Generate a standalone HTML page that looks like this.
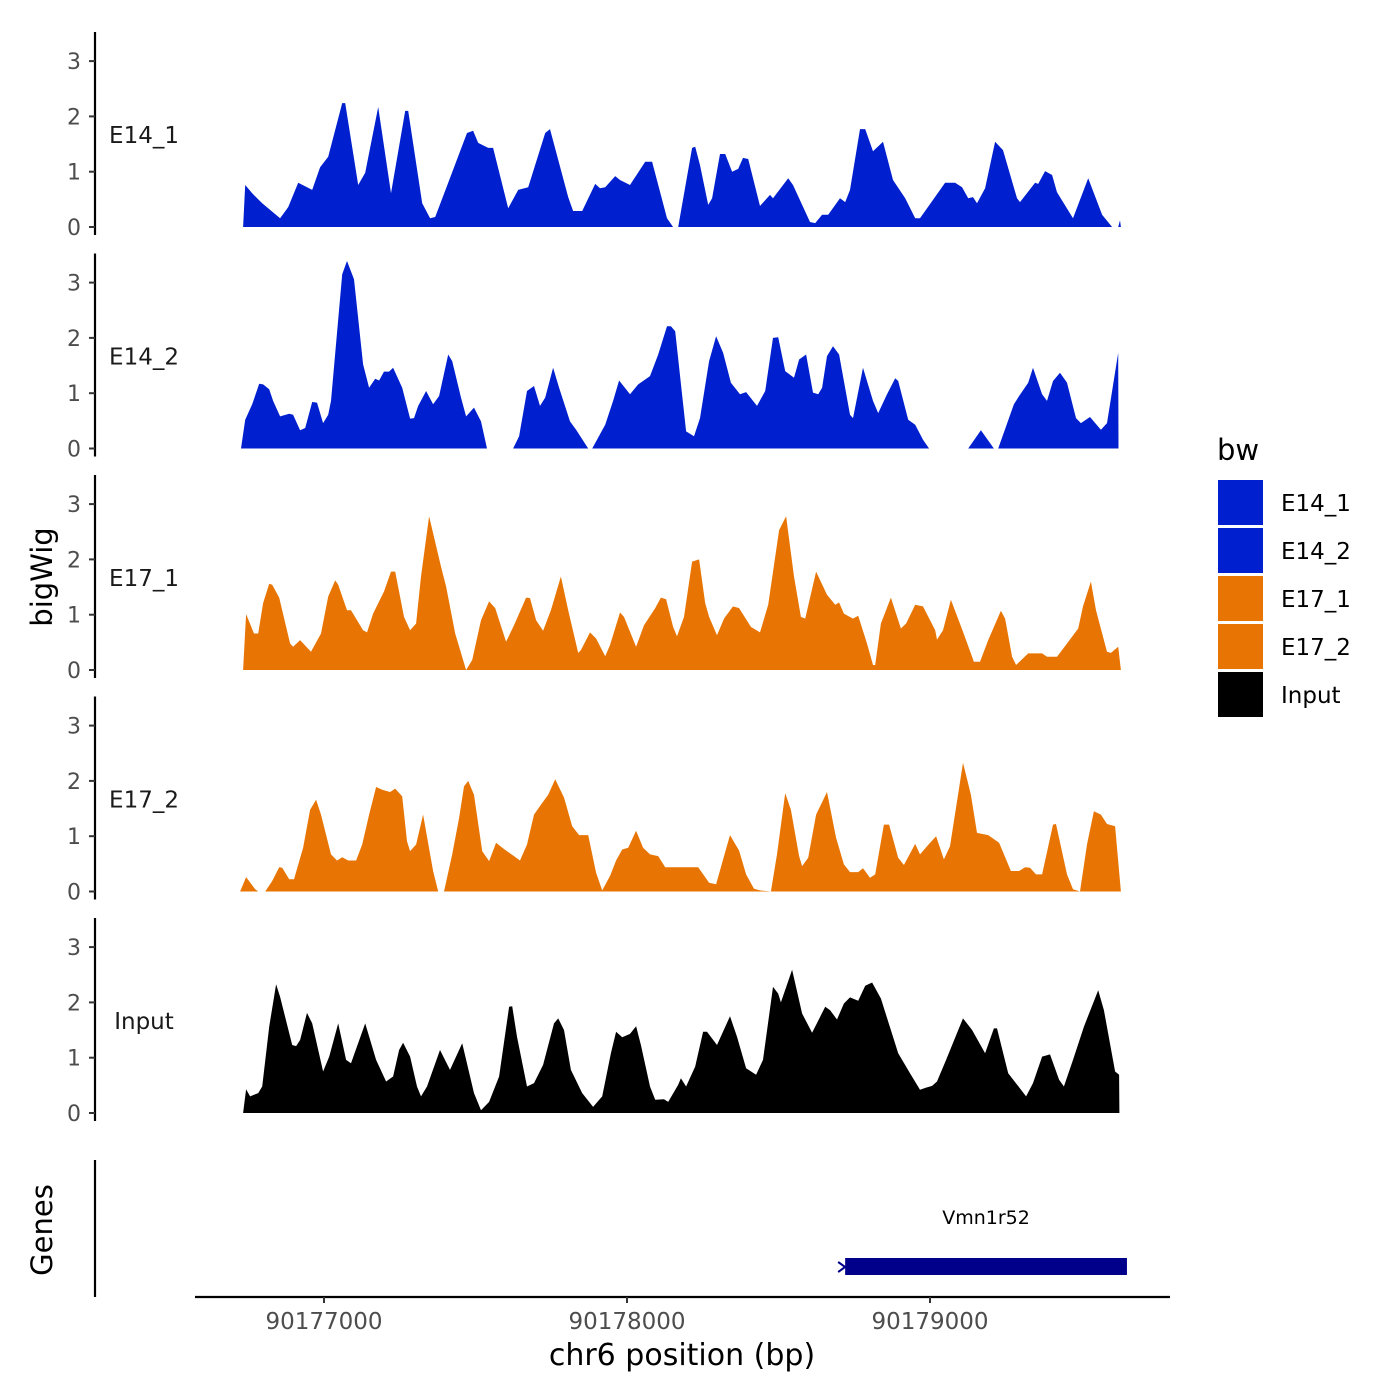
<!DOCTYPE html>
<html><head><meta charset="utf-8"><style>
html,body{margin:0;padding:0;background:#fff;}
svg{display:block;font-family:"DejaVu Sans","Liberation Sans",sans-serif;}
</style></head><body>
<svg id="chart" width="1400" height="1400" viewBox="0 0 1400 1400" xmlns="http://www.w3.org/2000/svg">
<rect x="0" y="0" width="1400" height="1400" fill="#fff"/>
<g id="tracks"></g>
<text x="52" y="577" transform="rotate(-90 52 577)" text-anchor="middle" font-size="29" fill="#000">bigWig</text>
<line x1="95" y1="1160" x2="95" y2="1297" stroke="#000" stroke-width="2.2"/>
<text x="52" y="1230" transform="rotate(-90 52 1230)" text-anchor="middle" font-size="29" fill="#000">Genes</text>
<g id="genes"></g>
<g id="xaxis"></g>
<text x="682" y="1365" text-anchor="middle" font-size="30" fill="#000">chr6 position (bp)</text>
<g id="legend"></g>
</svg>
<script>
const regionBase = 90176700;
const trackNames = ["E14_1","E14_2","E17_1","E17_2","Input"];
const trackColors = ["#0020CF","#0020CF","#E87503","#E87503","#000000"];
const yTicks = [0,1,2,3];
const xTicks = [90177000,90178000,90179000];
const xTickLabels = ["90177000","90178000","90179000"];
const legendLabels = ["E14_1","E14_2","E17_1","E17_2","Input"];
const geneName = "Vmn1r52";
const geneStart = 90178720;
const geneEnd = 90179650;

const pos1 = [33,40,63,96,155,182,215,261,287,314,360,370,413,436,479,521,568,578,624,650,667,710,772,792,809,842,858,908,941,974,1030,1046,1106,1122,1152,1195,1211,1228,1261,1277,1310,1360,1383,1432,1452,1469,1515,1525,1541,1568,1581,1607,1624,1647,1667,1683,1700,1739,1772,1782,1832,1848,1904,1921,1944,1964,2003,2020,2036,2069,2086,2112,2145,2178,2218,2251,2267,2350,2383,2406,2426,2442,2455,2482,2515,2541,2587,2597,2647,2657,2680,2703,2719,2772,2822,2868,2901,2921,2927,2930];
const val1 = [0,0.76,0.61,0.43,0.16,0.36,0.8,0.67,1.08,1.27,2.24,2.24,0.76,0.98,2.17,0.61,2.1,2.1,0.43,0.16,0.18,0.8,1.7,1.74,1.52,1.43,1.43,0.34,0.67,0.72,1.7,1.77,0.54,0.29,0.29,0.78,0.7,0.72,0.92,0.85,0.76,1.18,1.18,0.16,0,0,1.43,1.45,1.12,0.4,0.52,1.32,1.32,1.0,1.05,1.25,1.23,0.38,0.58,0.52,0.88,0.76,0.09,0.07,0.22,0.22,0.52,0.45,0.67,1.77,1.77,1.37,1.54,0.85,0.52,0.16,0.16,0.8,0.8,0.72,0.52,0.54,0.43,0.7,1.54,1.39,0.52,0.45,0.8,0.78,1.01,0.94,0.63,0.16,0.88,0.22,0,0,0.12,0];

const pos2 = [26,40,63,86,99,119,132,155,185,198,221,238,261,277,297,314,323,360,376,399,429,449,469,482,498,515,528,558,584,597,611,637,660,680,710,723,752,769,795,818,838,924,944,970,993,1013,1030,1056,1076,1112,1132,1172,1185,1228,1254,1274,1310,1337,1376,1403,1432,1445,1459,1495,1521,1541,1571,1594,1617,1643,1673,1693,1729,1756,1782,1799,1822,1851,1868,1891,1914,1931,1944,1960,1980,2000,2036,2046,2079,2112,2129,2158,2185,2195,2228,2251,2277,2297,2426,2468,2511,2525,2577,2594,2624,2640,2670,2686,2706,2729,2752,2782,2798,2828,2864,2884,2921,2922];
const val2 = [0,0.52,0.8,1.17,1.16,1.07,0.86,0.58,0.63,0.61,0.33,0.37,0.84,0.83,0.46,0.61,0.86,3.15,3.39,3.06,1.52,1.1,1.26,1.23,1.39,1.39,1.46,1.1,0.54,0.55,0.77,1.04,0.8,0.95,1.7,1.58,0.92,0.58,0.74,0.49,0,0,0.22,1.04,1.13,0.77,0.92,1.46,1.1,0.49,0.34,0,0,0.43,0.86,1.23,0.98,1.16,1.31,1.7,2.21,2.21,2.12,0.31,0.22,0.55,1.58,2.03,1.73,1.19,0.98,1.02,0.77,1.04,2.0,2.01,1.4,1.28,1.61,1.7,1.01,0.98,1.1,1.67,1.85,1.7,0.61,0.55,1.46,0.86,0.64,0.98,1.27,1.22,0.52,0.43,0.16,0,0,0.33,0,0,0.8,0.95,1.19,1.46,0.98,0.86,1.22,1.37,1.19,0.55,0.46,0.57,0.34,0.46,1.73,0];

const pos3 = [33,43,69,83,99,119,129,152,162,188,198,221,257,290,314,337,347,376,389,429,442,462,498,521,535,564,584,604,620,647,686,703,733,769,789,818,845,865,901,927,967,980,1000,1023,1049,1082,1106,1139,1148,1178,1198,1228,1244,1277,1290,1330,1356,1393,1412,1429,1452,1465,1488,1515,1538,1558,1571,1597,1620,1650,1670,1709,1739,1766,1802,1825,1851,1874,1888,1924,1960,1987,2000,2016,2046,2063,2092,2112,2119,2138,2171,2204,2221,2251,2277,2317,2323,2343,2369,2409,2445,2465,2492,2534,2548,2571,2584,2624,2670,2686,2719,2752,2789,2805,2831,2848,2884,2897,2921,2930];
const val3 = [0,1.01,0.66,0.66,1.21,1.56,1.54,1.31,1.08,0.48,0.42,0.54,0.33,0.66,1.33,1.62,1.54,1.08,1.08,0.72,0.68,1.02,1.42,1.78,1.78,0.96,0.72,0.84,1.69,2.78,1.87,1.51,0.66,0,0.18,0.9,1.24,1.12,0.51,0.81,1.31,1.3,0.9,0.71,1.08,1.69,1.08,0.31,0.36,0.68,0.57,0.25,0.45,1.04,0.96,0.42,0.81,1.12,1.31,1.28,0.78,0.61,0.96,1.96,2.0,1.21,0.96,0.63,0.93,1.15,1.12,0.78,0.68,1.18,2.53,2.78,1.69,0.96,0.93,1.78,1.36,1.18,1.22,1.02,0.93,0.98,0.48,0.09,0.09,0.84,1.31,0.75,0.84,1.18,1.15,0.72,0.55,0.72,1.27,0.69,0.15,0.15,0.54,1.07,0.93,0.24,0.09,0.3,0.3,0.24,0.24,0.48,0.75,1.15,1.6,1.08,0.33,0.31,0.42,0];

const pos4 = [23,43,73,83,106,129,152,162,185,201,231,254,274,290,323,343,360,380,406,426,449,472,492,518,535,558,574,584,604,627,660,677,696,723,746,762,776,795,822,845,868,891,927,947,970,993,1016,1040,1063,1092,1119,1142,1172,1198,1218,1244,1264,1284,1304,1330,1353,1376,1403,1426,1535,1571,1594,1617,1640,1670,1693,1719,1739,1775,1795,1822,1841,1868,1878,1898,1924,1960,1990,2016,2036,2063,2079,2102,2119,2148,2165,2195,2214,2251,2267,2297,2320,2346,2366,2389,2409,2435,2455,2492,2528,2567,2594,2614,2630,2650,2670,2706,2716,2752,2772,2795,2818,2841,2864,2884,2911,2930];
const val4 = [0,0.26,0.04,0,0,0.19,0.44,0.43,0.22,0.22,0.79,1.48,1.66,1.39,0.67,0.56,0.62,0.56,0.56,0.85,1.39,1.89,1.84,1.8,1.86,1.72,0.91,0.73,0.85,1.39,0.37,0,0,0.67,1.33,1.9,2.0,1.75,0.73,0.55,0.88,0.78,0.64,0.56,0.85,1.39,1.57,1.75,2.03,1.7,1.18,1.02,1.02,0.34,0.02,0.28,0.56,0.76,0.79,1.1,0.79,0.67,0.64,0.44,0.44,0.16,0.13,0.58,1.02,0.74,0.31,0.05,0.02,0,0.67,1.78,1.48,0.64,0.46,0.61,1.39,1.8,0.97,0.49,0.35,0.35,0.42,0.25,0.31,1.21,1.21,0.61,0.48,0.86,0.67,0.86,1.0,0.58,0.82,1.63,2.33,1.75,1.06,1.02,0.88,0.37,0.37,0.44,0.43,0.31,0.31,1.21,1.22,0.31,0.04,0,0.85,1.45,1.39,1.22,1.18,0];

const pos5 = [33,43,56,83,96,119,142,155,195,208,221,244,261,297,317,347,373,389,436,472,505,528,548,561,584,607,620,640,683,716,756,795,818,845,878,911,921,937,970,993,1023,1059,1073,1092,1115,1152,1188,1218,1247,1264,1284,1310,1330,1346,1376,1393,1422,1436,1469,1478,1495,1525,1551,1564,1597,1640,1663,1693,1726,1749,1782,1799,1808,1845,1878,1911,1954,1970,1993,2016,2036,2063,2086,2109,2138,2195,2234,2267,2287,2307,2323,2353,2409,2439,2482,2511,2521,2558,2617,2640,2670,2696,2726,2742,2772,2808,2855,2874,2911,2924,2925];
const val5 = [0,0.43,0.3,0.36,0.48,1.56,2.33,2.1,1.23,1.21,1.32,1.81,1.62,0.75,1.02,1.62,0.96,0.9,1.62,0.96,0.57,0.66,1.14,1.27,1.02,0.48,0.3,0.48,1.14,0.78,1.26,0.36,0.05,0.2,0.66,1.92,1.93,1.38,0.48,0.54,0.87,1.62,1.71,1.5,0.78,0.36,0.11,0.3,1.08,1.47,1.37,1.43,1.57,1.23,0.48,0.24,0.25,0.2,0.51,0.63,0.48,0.84,1.47,1.47,1.23,1.75,1.38,0.81,0.69,0.96,2.28,2.16,2.0,2.59,1.8,1.45,1.92,1.86,1.69,1.98,2.09,2.03,2.3,2.36,2.07,1.08,0.72,0.42,0.46,0.49,0.57,0.96,1.71,1.5,1.08,1.53,1.53,0.72,0.3,0.54,1.02,1.06,0.6,0.48,0.96,1.56,2.22,1.86,0.75,0.69,0];

const trackPos = [pos1,pos2,pos3,pos4,pos5];
const trackVals = [val1,val2,val3,val4,val5];

const NS = "http://www.w3.org/2000/svg";
function xScale(bp){ return 324 + (bp - 90177000) * 0.303; }
function zeroY(k){ return 227 + k * 221.5; }
function yScale(k, v){ return zeroY(k) - v * 55.3; }
function mk(tag, attrs, parent){ const e = document.createElementNS(NS, tag); for (const a in attrs) e.setAttribute(a, attrs[a]); parent.appendChild(e); return e; }

const tracksG = document.getElementById('tracks');
trackNames.forEach((name, k) => {
  const g = mk('g', {}, tracksG);
  
  
  const z = zeroY(k);
  const axis = mk('line', {x1:95, y1:z-195, x2:95, y2:z+8, stroke:'#000', 'stroke-width':2.2}, g);
  
  
  yTicks.forEach(t => {
    const y = yScale(k, t);
    const tk = mk('line', {x1:89, y1:y, x2:95, y2:y, stroke:'#333', 'stroke-width':2}, g);
    
    
    const tl = mk('text', {x:81, y:y+8, 'text-anchor':'end', 'font-size':22, fill:'#4d4d4d'}, g);
    tl.textContent = String(t);
    
    
  });
  const lbl = mk('text', {x:144, y:z-84, 'text-anchor':'middle', 'font-size':23, fill:'#1a1a1a'}, g);
  lbl.textContent = name;
  
  
  const ps = trackPos[k], vs = trackVals[k];
  let d = 'M' + xScale(regionBase + ps[0]).toFixed(1) + ',' + z;
  for (let i = 0; i < ps.length; i++) d += 'L' + xScale(regionBase + ps[i]).toFixed(1) + ',' + yScale(k, vs[i]).toFixed(1);
  d += 'L' + xScale(regionBase + ps[ps.length-1]).toFixed(1) + ',' + z + 'Z';
  const area = mk('path', {d:d, fill:trackColors[k], 'stroke-linejoin':'round'}, g);
  
  
});

const xg = document.getElementById('xaxis');
const xl = mk('line', {x1:195, y1:1297, x2:1170, y2:1297, stroke:'#000', 'stroke-width':2.2}, xg);


xTicks.forEach((t, i) => {
  const x = xScale(t);
  const tk = mk('line', {x1:x, y1:1297, x2:x, y2:1303, stroke:'#333', 'stroke-width':2}, xg);
  
  
  const tl = mk('text', {x:x, y:1329, 'text-anchor':'middle', 'font-size':23, fill:'#4d4d4d'}, xg);
  tl.textContent = xTickLabels[i];
  
  
});

const gg = document.getElementById('genes');
const gx1 = xScale(geneStart), gx2 = xScale(geneEnd);
const gr = mk('rect', {x:gx1, y:1258, width:gx2-gx1, height:17, fill:'#00008B'}, gg);


const ga = mk('path', {d:'M'+(gx1-7)+',1262L'+gx1+',1267L'+(gx1-7)+',1272', stroke:'#00008B', 'stroke-width':2, fill:'none'}, gg);


const gt = mk('text', {x:(gx1+gx2)/2, y:1224, 'text-anchor':'middle', 'font-size':19, fill:'#000'}, gg);
gt.textContent = geneName;



const lg = document.getElementById('legend');
const lt = mk('text', {x:1217, y:460, 'font-size':29, fill:'#000'}, lg);
lt.textContent = 'bw';


legendLabels.forEach((name, i) => {
  const y = 480 + i * 48;
  const sw = mk('rect', {x:1218, y:y, width:45, height:45, fill:trackColors[i]}, lg);
  
  
  const t = mk('text', {x:1281, y:y+31, 'font-size':23, fill:'#000'}, lg);
  t.textContent = name;
  
  
});
</script>
</body></html>
